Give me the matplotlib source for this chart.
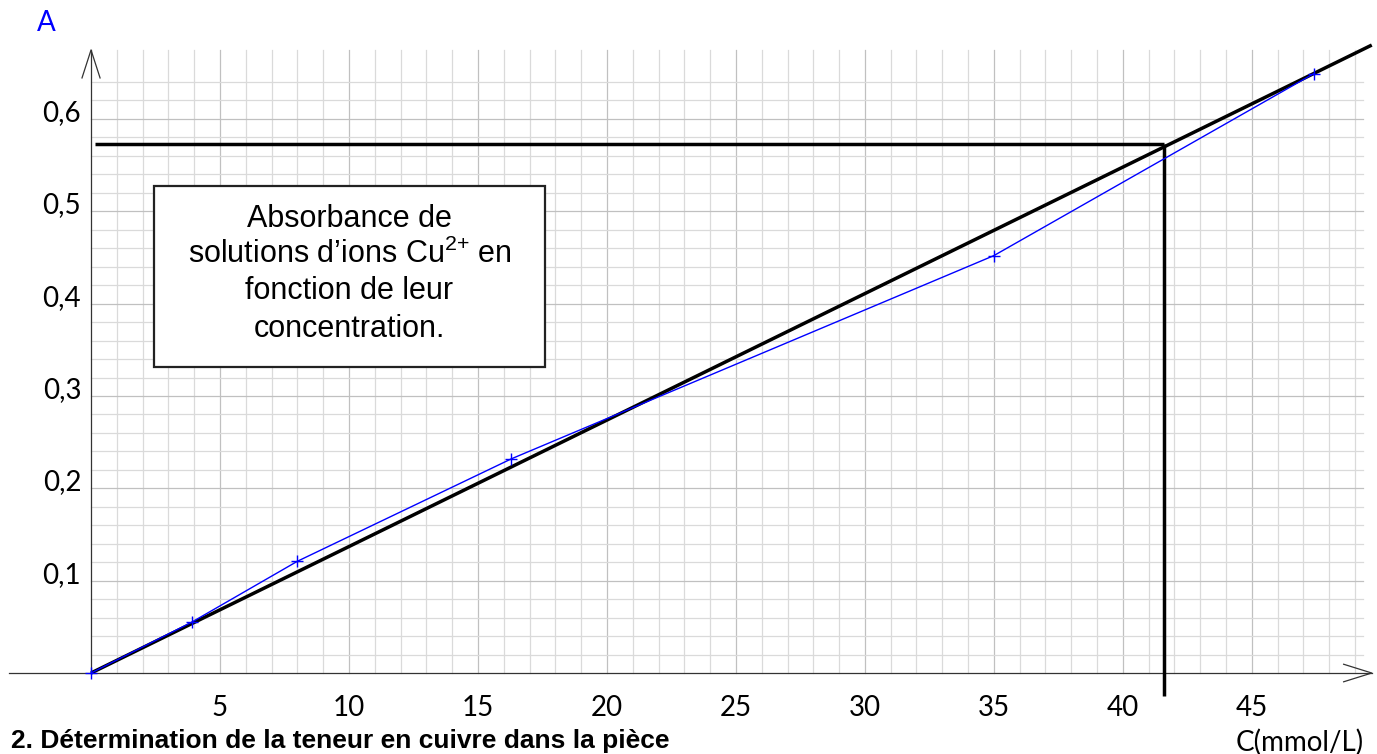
import matplotlib
matplotlib.use("Agg")
import matplotlib.pyplot as plt
import numpy as np
from matplotlib.patches import Rectangle

# ---- data ----
conc = [0, 3.9, 8, 16.3, 35, 47.4]            # C (mmol/L)
absorb = [0, 0.055, 0.121, 0.232, 0.452, 0.649]  # A
fit_x = [0, 49.65]
fit_y = [0, 0.680]
read_C = 41.6
read_A = 0.573
x_ticks = [5, 10, 15, 20, 25, 30, 35, 40, 45]
x_tick_labels = ["5", "10", "15", "20", "25", "30", "35", "40", "45"]
y_ticks = [0.1, 0.2, 0.3, 0.4, 0.5, 0.6]
y_tick_labels = ["0,1", "0,2", "0,3", "0,4", "0,5", "0,6"]
box_lines = ["Absorbance de",
             "solutions d\u2019ions Cu$^{\\mathregular{2{+}}}$ en",
             "fonction de leur",
             "concentration."]

plt.rcParams["mathtext.fontset"] = "custom"
plt.rcParams["mathtext.rm"] = "Liberation Sans"

fig = plt.figure(figsize=(13.77, 7.54), dpi=100)
ax = fig.add_axes([0, 0, 1, 1])
ax.set_xlim(-3.529, 49.853)
ax.set_ylim(-0.0877, 0.7288)
ax.axis("off")

grid_xmax = 49.3
grid_ytop = 0.6747
minor_c = "#dadada"
major_c = "#c0c0c0"

# vertical grid lines
for xv in np.arange(1, 50, 1):
    c = major_c if xv % 5 == 0 else minor_c
    ax.plot([xv, xv], [0, grid_ytop], color=c, lw=0.9, zorder=1)
# horizontal grid lines
for i in range(1, 33):
    yv = i * 0.02
    c = major_c if i % 5 == 0 else minor_c
    ax.plot([0, grid_xmax], [yv, yv], color=c, lw=0.9, zorder=1)

# axes with arrows
axc = "#333333"
ax.plot([-3.18, 49.65], [0, 0], color=axc, lw=0.9, zorder=2)
ax.plot([49.65 - 1.09, 49.65, 49.65 - 1.09], [0.0095, 0, -0.0095], color=axc, lw=0.9, zorder=2)
ax.plot([0, 0], [0, grid_ytop], color=axc, lw=0.9, zorder=2)
ax.plot([-0.35, 0, 0.35], [grid_ytop - 0.0303, grid_ytop, grid_ytop - 0.0303], color=axc, lw=0.9, zorder=2)

# tick labels
tick_font = "Lato"
tick_size = 20
for xv, lab in zip(x_ticks, x_tick_labels):
    ax.text(xv, -0.038, lab, ha="center", va="center", fontsize=tick_size,
            family=tick_font, color="black")
for yv, lab in zip(y_ticks, y_tick_labels):
    ax.text(-0.38, yv + 0.0065, lab, ha="right", va="center", fontsize=tick_size,
            family=tick_font, color="black")
ax.text(-1.75, 0.704, "A", ha="center", va="center", fontsize=tick_size,
        family=tick_font, color="#0000ff")
ax.text(49.35, -0.0745, "C(mmol/L)", ha="right", va="center", fontsize=tick_size,
        family=tick_font, color="black")

# text box
ax.add_patch(Rectangle((2.45, 0.3314), 17.59 - 2.45, 0.5274 - 0.3314,
                       facecolor="white", edgecolor="#222222", lw=1.6, zorder=3))
baselines = [0.4830, 0.4440, 0.4050, 0.3639]
for yb, line in zip(baselines, box_lines):
    ax.text(10.02, yb, line, ha="center", va="baseline", fontsize=22,
            family="Liberation Sans", color="black", zorder=4)

# reading lines and fit line
ax.plot([0.15, read_C], [read_A, read_A], color="black", lw=2.5, zorder=4,
        solid_capstyle="butt")
ax.plot([read_C, read_C], [-0.025, read_A], color="black", lw=2.5, zorder=4,
        solid_capstyle="butt")
ax.plot(fit_x, fit_y, color="black", lw=2.5, zorder=5, solid_capstyle="butt")

# measured data
ax.plot(conc, absorb, color="#0000ff", lw=1.0, marker="+", markersize=8,
        markeredgewidth=1.0, zorder=6)

# bottom text
ax.text(-3.1, -0.0815, "2. D\u00e9termination de la teneur en cuivre dans la pi\u00e8ce",
        ha="left", va="baseline", fontsize=19, fontweight="bold",
        family="Liberation Sans", color="black")

fig.savefig("out.png", dpi=100)
